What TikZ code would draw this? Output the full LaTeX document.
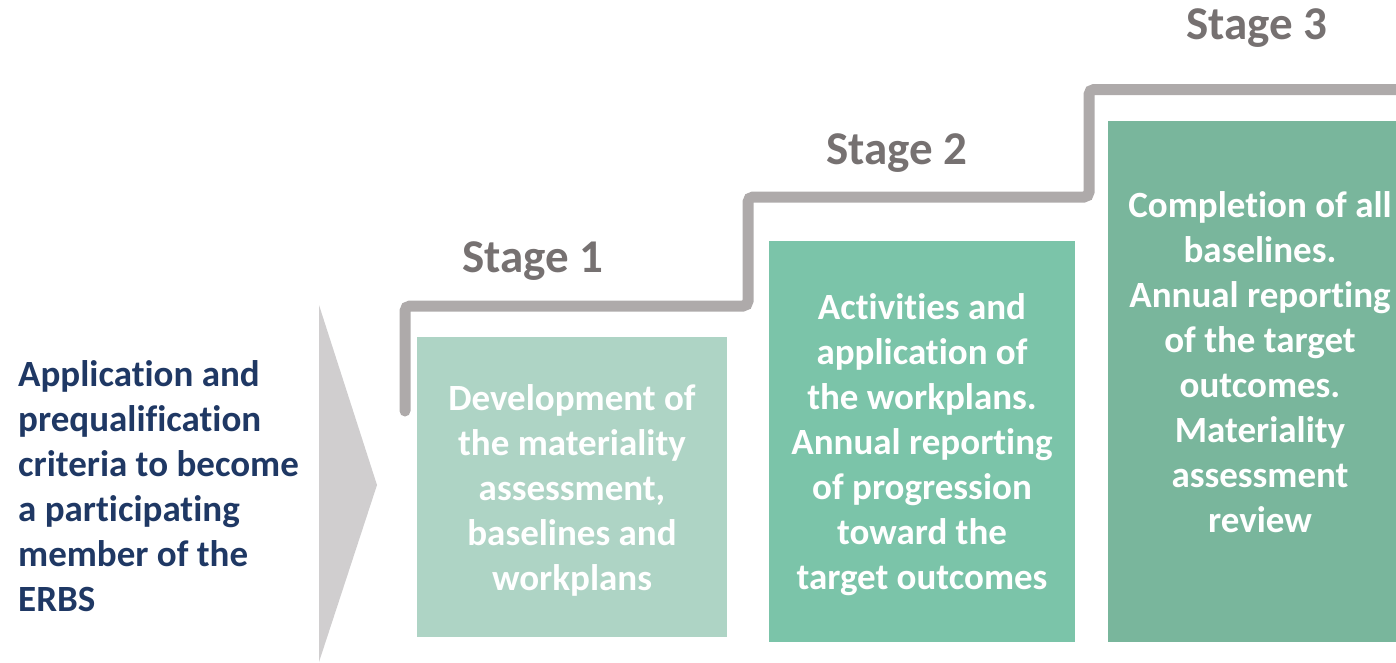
\documentclass[tikz,border=0pt]{standalone}
\usepackage{fontspec}
\setmainfont[Ligatures=NoCommon]{Carlito}
\definecolor{chev}{HTML}{D0CECF}
\definecolor{stepgray}{HTML}{AEAAAA}
\definecolor{stagegray}{HTML}{767171}
\definecolor{navy}{HTML}{1F3864}
\definecolor{boxA}{HTML}{AED4C5}
\definecolor{boxB}{HTML}{7BC4A9}
\definecolor{boxC}{HTML}{79B69C}
\tikzset{
  stagelabel/.style={text=stagegray, font=\bfseries\fontsize{47}{56}\selectfont, inner sep=0pt},
  boxtext/.style={text=white, align=center, font=\bfseries\fontsize{37}{45}\selectfont, inner sep=0pt},
  stepline/.style={draw=stepgray, line width=11pt, line cap=round, rounded corners=5pt},
  stagebox/.style={inner sep=0pt, draw=none}
}
\begin{document}
\begin{tikzpicture}[x=1pt,y=-1pt]
\useasboundingbox (0,0) rectangle (1396,662);
% chevron
\fill[chev] (319,305) coordinate (chevTop) -- (377,485) coordinate (chevTip) -- (319,662) coordinate (chevBot) -- cycle;
% step line
\coordinate (s0) at (405,411);
\coordinate (s1) at (405,306);
\coordinate (s2) at (748,306);
\coordinate (s3) at (748,197);
\coordinate (s4) at (1089,197);
\coordinate (s5) at (1089,89.5);
\coordinate (s6) at (1410,89.5);
\draw[stepline] (s0) -- (s1) -- (s2) -- (s3) -- (s4) -- (s5) -- (s6);
% boxes
\fill[boxA] (417,337) coordinate (b1tl) rectangle (727,637) coordinate (b1br);
\fill[boxB] (769,241) coordinate (b2tl) rectangle (1075,642) coordinate (b2br);
\fill[boxC] (1108,121) coordinate (b3tl) rectangle (1396,642) coordinate (b3br);
% stage labels
\node[stagelabel] (st1) at (533,261) {Stage 1};
\node[stagelabel] (st2) at (897,153) {Stage 2};
\node[stagelabel] (st3) at (1257,28) {Stage 3};
% box texts
\node[boxtext] (t1) at (572,490) {Development of\\the materiality\\assessment,\\baselines and\\workplans};
\node[boxtext] (t2) at (922,445) {Activities and\\application of\\the workplans.\\Annual reporting\\of progression\\toward the\\target outcomes};
\node[boxtext] (t3) at (1260,362) {Completion of all\\baselines.\\Annual reporting\\of the target\\outcomes.\\Materiality\\assessment\\review};
% left text
\node[text=navy, align=left, anchor=west, inner sep=0pt, font=\bfseries\fontsize{37}{45}\selectfont] (lt) at (18,486) {Application and\\prequalification\\criteria to become\\a participating\\member of the\\ERBS};
\end{tikzpicture}
\end{document}
